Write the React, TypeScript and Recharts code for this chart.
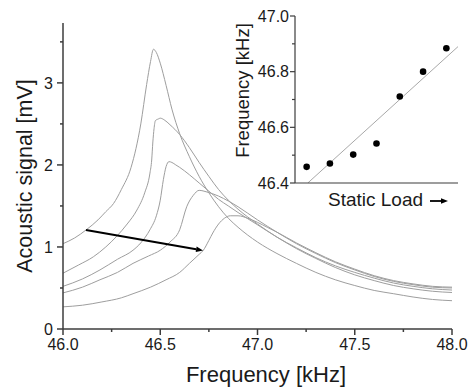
import React from 'react';
import { LineChart, Line, XAxis, YAxis, ReferenceLine, ComposedChart, Scatter } from 'recharts';

const FONT = '"Liberation Sans", Arial, sans-serif';
const AXIS = '#3c3c3c';
const CURVE = '#9e9e9e';
const TEXT = '#1a1a1a';

// ---- main chart axes ----
const xTicks = [46, 46.25, 46.5, 46.75, 47, 47.25, 47.5, 47.75, 48];
const xLabeled = [46, 46.5, 47, 47.5, 48];
const yTicks = [0, 0.5, 1, 1.5, 2, 2.5, 3, 3.5];
const yLabeled = [0, 1, 2, 3];

// ---- resonance curves (frequency kHz, signal mV) ----
const c1F = [46.00, 46.06, 46.12, 46.18, 46.22, 46.26, 46.30, 46.35, 46.40, 46.43, 46.45, 46.465, 46.48, 46.50, 46.53, 46.56, 46.60, 46.65, 46.70, 46.75, 46.80, 46.85, 46.90, 47.00, 47.10, 47.20, 47.30, 47.40, 47.50, 47.60, 47.70, 47.80, 47.90, 48.00];
const c1V = [1.04, 1.11, 1.21, 1.33, 1.43, 1.53, 1.70, 1.97, 2.50, 2.98, 3.26, 3.41, 3.37, 3.24, 2.97, 2.68, 2.38, 2.10, 1.86, 1.66, 1.49, 1.35, 1.24, 1.06, 0.92, 0.80, 0.69, 0.60, 0.53, 0.47, 0.43, 0.39, 0.36, 0.345];

const c2F = [46.00, 46.08, 46.156, 46.22, 46.276, 46.33, 46.38, 46.42, 46.447, 46.456, 46.462, 46.468, 46.475, 46.49, 46.50, 46.52, 46.55, 46.60, 46.65, 46.70, 46.75, 46.80, 46.85, 46.90, 47.00, 47.10, 47.20, 47.30, 47.40, 47.50, 47.60, 47.70, 47.80, 47.90, 48.00];
const c2V = [0.68, 0.78, 0.88, 1.00, 1.13, 1.28, 1.45, 1.66, 1.90, 2.06, 2.28, 2.44, 2.54, 2.56, 2.57, 2.55, 2.49, 2.37, 2.21, 2.03, 1.86, 1.70, 1.57, 1.46, 1.28, 1.12, 0.99, 0.87, 0.77, 0.69, 0.62, 0.56, 0.52, 0.49, 0.475];

const c3F = [46.00, 46.10, 46.19, 46.28, 46.36, 46.40, 46.447, 46.48, 46.50, 46.516, 46.53, 46.545, 46.56, 46.58, 46.60, 46.65, 46.70, 46.75, 46.80, 46.85, 46.90, 47.00, 47.10, 47.20, 47.30, 47.40, 47.50, 47.60, 47.70, 47.80, 47.90, 48.00];
const c3V = [0.52, 0.61, 0.72, 0.85, 0.96, 1.05, 1.21, 1.38, 1.57, 1.82, 1.98, 2.04, 2.03, 2.00, 1.97, 1.88, 1.78, 1.68, 1.58, 1.50, 1.42, 1.27, 1.12, 0.98, 0.86, 0.75, 0.66, 0.59, 0.53, 0.49, 0.46, 0.445];

const c4F = [46.00, 46.10, 46.19, 46.28, 46.36, 46.44, 46.50, 46.55, 46.60, 46.636, 46.67, 46.70, 46.74, 46.80, 46.85, 46.90, 47.00, 47.10, 47.20, 47.30, 47.40, 47.50, 47.60, 47.70, 47.80, 47.90, 48.00];
const c4V = [0.44, 0.51, 0.60, 0.69, 0.80, 0.89, 0.96, 1.06, 1.21, 1.49, 1.63, 1.69, 1.67, 1.62, 1.56, 1.49, 1.33, 1.18, 1.04, 0.92, 0.81, 0.72, 0.64, 0.58, 0.54, 0.51, 0.50];

const c5F = [46.00, 46.10, 46.20, 46.30, 46.36, 46.45, 46.53, 46.60, 46.65, 46.70, 46.72, 46.75, 46.77, 46.80, 46.83, 46.86, 46.90, 46.95, 47.00, 47.05, 47.10, 47.20, 47.30, 47.40, 47.50, 47.60, 47.70, 47.80, 47.90, 48.00];
const c5V = [0.27, 0.29, 0.33, 0.38, 0.43, 0.51, 0.60, 0.69, 0.80, 0.91, 0.955, 1.08, 1.17, 1.28, 1.35, 1.38, 1.38, 1.35, 1.30, 1.24, 1.18, 1.05, 0.93, 0.82, 0.73, 0.65, 0.59, 0.55, 0.52, 0.51];

// arrow annotation (data coordinates)
const arrowFrom = { f: 46.118, v: 1.207 };
const arrowTo = { f: 46.72, v: 0.957 };

// ---- inset ----
const loadStep = [1, 2, 3, 4, 5, 6, 7];
const peakFreq = [46.458, 46.470, 46.502, 46.542, 46.711, 46.800, 46.884];
const fitX = [1.05, 7.5];
const fitY = [46.40, 46.89];
const insetTicks = [46.4, 46.5, 46.6, 46.7, 46.8, 46.9, 47.0];
const insetLabeled = [46.4, 46.6, 46.8, 47.0];

const zip = (f: number[], v: number[]) => f.map((x, i) => ({ f: x, v: v[i] }));
const curves = [zip(c1F, c1V), zip(c2F, c2V), zip(c3F, c3V), zip(c4F, c4V), zip(c5F, c5V)];
const points = loadStep.map((x, i) => ({ x, y: peakFreq[i] }));
const fit = fitX.map((x, i) => ({ x, y: fitY[i] }));

const MainXTick = (props: any) => {
  const { x, y, payload } = props;
  const major = xLabeled.includes(payload.value);
  return (
    <g>
      <line x1={x} y1={y} x2={x} y2={y + (major ? 6 : 3)} stroke={AXIS} strokeWidth={1.5} />
      {major && (
        <text x={x} y={y + 21} textAnchor="middle" fontSize={16} fontFamily={FONT} fill={TEXT}>
          {payload.value.toFixed(1)}
        </text>
      )}
    </g>
  );
};

const MainYTick = (props: any) => {
  const { x, y, payload } = props;
  const major = yLabeled.includes(payload.value);
  return (
    <g>
      <line x1={x} y1={y} x2={x - (major ? 6 : 3)} y2={y} stroke={AXIS} strokeWidth={1.5} />
      {major && (
        <text x={x - 10} y={y + 5.8} textAnchor="end" fontSize={16} fontFamily={FONT} fill={TEXT}>
          {String(payload.value)}
        </text>
      )}
    </g>
  );
};

const InsetYTick = (props: any) => {
  const { x, y, payload } = props;
  const major = insetLabeled.some((t) => Math.abs(t - payload.value) < 1e-6);
  return (
    <g>
      <line x1={x} y1={y} x2={x - (major ? 5 : 3)} y2={y} stroke={AXIS} strokeWidth={1.2} />
      {major && (
        <text x={x - 6} y={y + 5.8} textAnchor="end" fontSize={16} fontFamily={FONT} fill={TEXT}>
          {payload.value.toFixed(1)}
        </text>
      )}
    </g>
  );
};

const ArrowShape = (p: any) => {
  const { x1, y1, x2, y2 } = p;
  const ang = Math.atan2(y2 - y1, x2 - x1);
  const L = 7;
  const W = 2.8;
  const bx = x2 - L * Math.cos(ang);
  const by = y2 - L * Math.sin(ang);
  const nx = -Math.sin(ang);
  const ny = Math.cos(ang);
  return (
    <g>
      <line x1={x1} y1={y1} x2={bx} y2={by} stroke="#000" strokeWidth={2} />
      <polygon points={`${x2},${y2} ${bx + nx * W},${by + ny * W} ${bx - nx * W},${by - ny * W}`} fill="#000" />
    </g>
  );
};

const MainXLabel = (props: any) => {
  const vb = props.viewBox || {};
  return (
    <text x={vb.x + vb.width / 2 + 8.5} y={vb.y + 52.5} textAnchor="middle" fontSize={22} fontFamily={FONT} fill={TEXT}>
      Frequency [kHz]
    </text>
  );
};

const MainYLabel = (props: any) => {
  const vb = props.viewBox || {};
  const cx = 25;
  const cy = vb.y + vb.height / 2;
  return (
    <text x={cx} y={cy} transform={`rotate(-90 ${cx} ${cy})`} textAnchor="middle" dominantBaseline="central" fontSize={21.5} fontFamily={FONT} fill={TEXT}>
      Acoustic signal [mV]
    </text>
  );
};

const InsetYLabel = (props: any) => {
  const vb = props.viewBox || {};
  const cx = 12;
  const cy = vb.y + vb.height / 2 - 9;
  return (
    <text x={cx} y={cy} transform={`rotate(-90 ${cx} ${cy})`} textAnchor="middle" dominantBaseline="central" fontSize={18.5} fontFamily={FONT} fill={TEXT}>
      Frequency [kHz]
    </text>
  );
};

const InsetXLabel = (props: any) => {
  const vb = props.viewBox || {};
  const tx = vb.x + 33;
  const ty = vb.y + 22.5;
  const ay = vb.y + 18;
  const ax1 = vb.x + 135;
  const ax2 = vb.x + 153;
  return (
    <g>
      <text x={tx} y={ty} fontSize={19} fontFamily={FONT} fill={TEXT}>
        Static Load
      </text>
      <line x1={ax1} y1={ay} x2={ax2 - 6} y2={ay} stroke="#000" strokeWidth={1.8} />
      <polygon points={`${ax2},${ay} ${ax2 - 7},${ay - 2.8} ${ax2 - 7},${ay + 2.8}`} fill="#000" />
    </g>
  );
};

export default function App() {
  return (
    <div style={{ position: 'absolute', left: 0, top: 0, width: 469, height: 387, background: '#fff' }}>
      <div style={{ position: 'absolute', left: 0, top: 0 }}>
        <LineChart width={469} height={387} margin={{ top: 23, right: 17, left: 0, bottom: 0 }}>
          <XAxis
            type="number"
            dataKey="f"
            domain={[46, 48]}
            ticks={xTicks}
            interval={0}
            tick={<MainXTick />}
            tickLine={false}
            tickSize={0}
            tickMargin={0}
            height={58}
            allowDataOverflow
            axisLine={{ stroke: AXIS, strokeWidth: 1.5 }}
            label={<MainXLabel />}
          />
          <YAxis
            type="number"
            dataKey="v"
            domain={[0, 3.73]}
            ticks={yTicks}
            interval={0}
            tick={<MainYTick />}
            tickLine={false}
            tickSize={0}
            tickMargin={0}
            width={63}
            allowDataOverflow
            axisLine={{ stroke: AXIS, strokeWidth: 1.5 }}
            label={<MainYLabel />}
          />
          {curves.map((d, i) => (
            <Line
              key={i}
              data={d}
              dataKey="v"
              type="monotone"
              stroke={CURVE}
              strokeWidth={1}
              dot={false}
              activeDot={false}
              isAnimationActive={false}
            />
          ))}
          <ReferenceLine
            segment={[
              { x: arrowFrom.f, y: arrowFrom.v },
              { x: arrowTo.f, y: arrowTo.v },
            ]}
            shape={ArrowShape}
            ifOverflow="visible"
          />
        </LineChart>
      </div>
      <div style={{ position: 'absolute', left: 230, top: 0 }}>
        <ComposedChart width={239} height={215} margin={{ top: 16, right: 11, left: 0, bottom: 0 }}>
          <XAxis
            type="number"
            dataKey="x"
            domain={[0.5, 7.5]}
            ticks={[]}
            tick={false}
            tickLine={false}
            height={32}
            allowDataOverflow
            axisLine={{ stroke: AXIS, strokeWidth: 1.2 }}
            label={<InsetXLabel />}
          />
          <YAxis
            type="number"
            dataKey="y"
            domain={[46.4, 47.0]}
            ticks={insetTicks}
            interval={0}
            tick={<InsetYTick />}
            tickLine={false}
            tickSize={0}
            tickMargin={0}
            width={65}
            allowDataOverflow
            axisLine={{ stroke: AXIS, strokeWidth: 1.2 }}
            label={<InsetYLabel />}
          />
          <Line
            data={fit}
            dataKey="y"
            type="linear"
            stroke="#a8a8a8"
            strokeWidth={1}
            dot={false}
            activeDot={false}
            isAnimationActive={false}
          />
          <Scatter
            data={points}
            dataKey="y"
            fill="#000"
            isAnimationActive={false}
            shape={(p: any) => <circle cx={p.cx} cy={p.cy} r={3.3} fill="#000" />}
          />
        </ComposedChart>
      </div>
    </div>
  );
}
